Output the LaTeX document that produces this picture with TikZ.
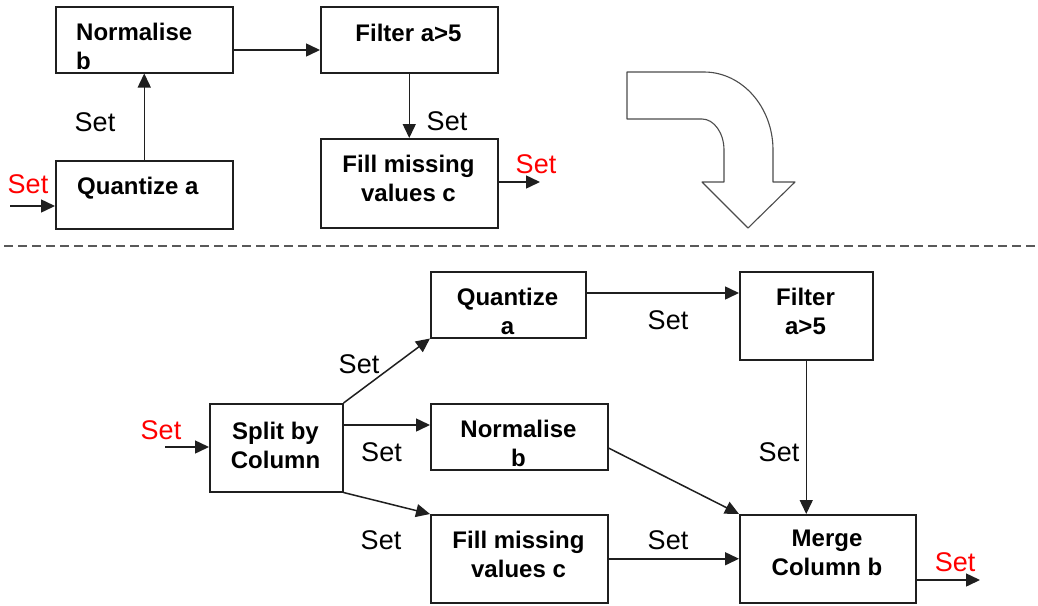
\documentclass[tikz,border=0pt]{standalone}
\usepackage{fontspec}
\setmainfont{Liberation Sans}
\usetikzlibrary{arrows.meta}
\begin{document}
\begin{tikzpicture}[x=1pt,y=-1pt,
  box/.style={draw=black!88, line width=1.5pt, fill=white, inner sep=0pt, anchor=north west},
  btxt/.style={font=\fontsize{24}{28.5}\selectfont\bfseries, inner sep=0pt, align=center, anchor=north},
  ltxt/.style={font=\fontsize{24}{28.5}\selectfont\bfseries, inner sep=0pt, align=left, anchor=north west},
  setl/.style={font=\fontsize{27}{32}\selectfont, inner sep=0pt, anchor=center},
  redset/.style={setl, text=red},
  arr/.style={draw=black!88, line width=1.5pt, -{Triangle[length=14pt,width=13pt]}},
  bigarrow/.style={draw=black!70, line width=1.1pt, fill=white, line join=round}
]
\useasboundingbox (0,0) rectangle (1038,605);
\fill[white] (0,0) rectangle (1038,605);

% ---------- top part ----------
\node[box, minimum width=177, minimum height=66] (tn) at (55,6) {};
\node[box, minimum width=177, minimum height=66] (tf) at (320,6) {};
\node[box, minimum width=177, minimum height=68] (tq) at (55,160) {};
\node[box, minimum width=177, minimum height=89] (tm) at (320,138) {};

\node[ltxt] (tnt) at (76,23) {Normalise\\b};
\node[btxt] (tft) at (408.5,24) {Filter a>5};
\node[ltxt] (tqt) at (77,177) {Quantize a};
\node[btxt] (tmt) at (408.5,155) {Fill missing\\values c};

\coordinate (tin) at (10,206);
\coordinate (tout) at (540,182);
\draw[arr] (tq.north) -- (tn.south);
\draw[arr] (tn.east |- 0,50) -- (tf.west |- 0,50);
\draw[arr] (tf.south) -- (tm.north);
\draw[arr] (tin) -- (tq.west |- tin);
\draw[arr] (tm.east |- tout) -- (tout);

\node[setl] (l1) at (95,122) {Set};
\node[setl] (l2) at (447,121) {Set};
\node[redset] (l3) at (28,184) {Set};
\node[redset] (l4) at (536,164) {Set};

% big curved arrow
\draw[bigarrow] (627,72) -- (704,72) .. controls (742,72) and (773,107) .. (773,150)
  -- (773,182) -- (795,182) -- (748,228) -- (702,182) -- (724,182) -- (724,150)
  .. controls (724,133) and (714,119) .. (702,119) -- (627,119) -- cycle;

% dashed separator
\draw[black!65, line width=1.2pt, dash pattern=on 9pt off 5pt] (4,246) -- (1035,246);

% ---------- bottom part ----------
\node[box, minimum width=155, minimum height=66] (bq) at (430,271) {};
\node[box, minimum width=133, minimum height=88] (bf) at (739,271) {};
\node[box, minimum width=133, minimum height=88] (bs) at (209,403) {};
\node[box, minimum width=177, minimum height=66] (bn) at (430,403) {};
\node[box, minimum width=177, minimum height=88] (bm) at (430,514) {};
\node[box, minimum width=176, minimum height=88] (bg) at (739,514) {};

\node[btxt] (bqt) at (507.5,288) {Quantize\\a};
\node[btxt] (bft) at (805.5,288) {Filter\\a>5};
\node[btxt] (bst) at (275.5,422) {Split by\\Column};
\node[btxt] (bnt) at (518.5,420) {Normalise\\b};
\node[btxt] (bmt) at (518.5,531) {Fill missing\\values c};
\node[btxt] (bgt) at (827,530) {Merge\\Column b};

\coordinate (bin) at (165,447);
\coordinate (bout) at (980,580);
\draw[arr] (bs.north east) -- (bq.south west);
\draw[arr] (bs.east |- 0,425) -- (bn.west |- 0,425);
\draw[arr] (bs.south east) -- (bm.north west);
\draw[arr] (bq.east |- 0,293) -- (bf.west |- 0,293);
\draw[arr] (bf.south) -- (bf.south |- bg.north);
\draw[arr] (bn.east |- 0,448) -- (bg.north west);
\draw[arr] (bm.east) -- (bm.east -| bg.west);
\draw[arr] (bin) -- (bs.west |- bin);
\draw[arr] (bg.east |- bout) -- (bout);

\node[setl] (m1) at (359,364) {Set};
\node[setl] (m2) at (381.5,452) {Set};
\node[setl] (m3) at (381,540) {Set};
\node[setl] (m4) at (668,320) {Set};
\node[setl] (m5) at (779,452) {Set};
\node[setl] (m6) at (668,540) {Set};
\node[redset] (m7) at (161,430) {Set};
\node[redset] (m8) at (955,562) {Set};
\end{tikzpicture}
\end{document}
